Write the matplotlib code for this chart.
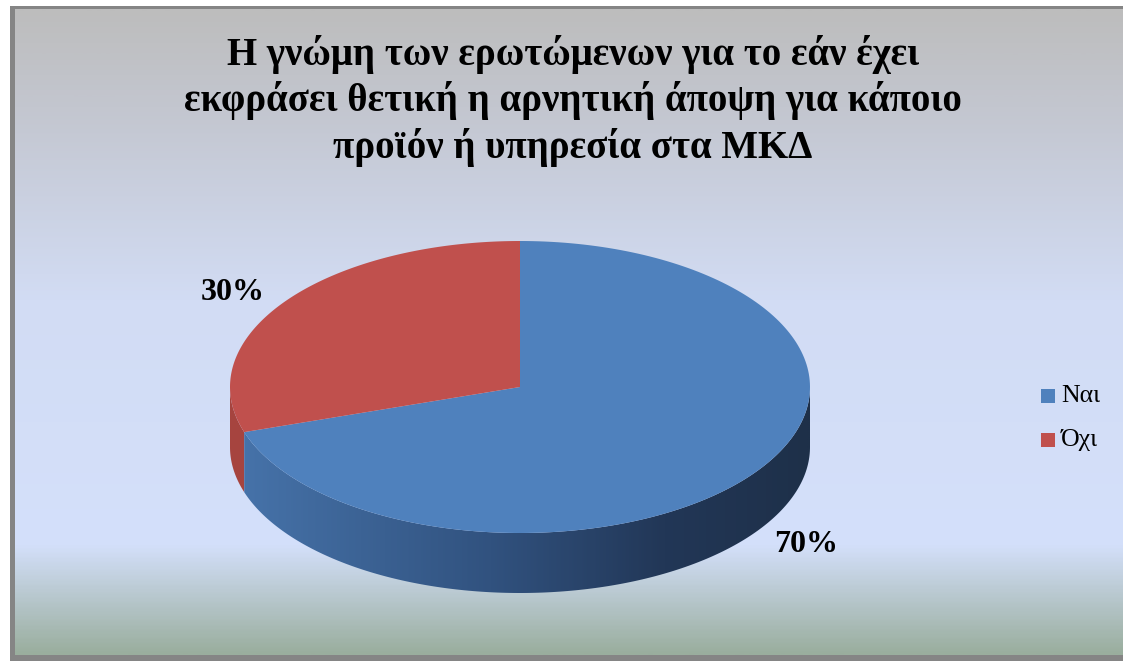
import matplotlib

matplotlib.use("Agg")
import matplotlib.pyplot as plt
import numpy as np
from matplotlib.colors import LinearSegmentedColormap
from matplotlib.patches import Polygon, Rectangle

# survey answers (share of respondents)
categories = ["Ναι", "Όχι"]
shares = [70, 30]
title = ("Η γνώμη των ερωτώμενων για το εάν έχει\n"
         "εκφράσει θετική η αρνητική άποψη για κάποιο\n"
         "προϊόν ή υπηρεσία στα ΜΚΔ")

W, H = 1123, 661
top_colors = ["#4f81bd", "#c0504d"]
side_color_red = "#a6443f"
serif = ["Liberation Serif", "DejaVu Serif"]

# pie geometry in pixel space
cx, cy, rx, ry, depth = 520, 387, 290, 146, 60
label_pos = [(806, 545), (233, 292)]


def arc(t1, t2, dy=0.0, n=200):
    t = np.radians(np.linspace(t1, t2, n))
    return np.column_stack([cx + rx * np.cos(t), cy - ry * np.sin(t) + dy])


fig = plt.figure(figsize=(W / 100, H / 100), dpi=100)
ax = fig.add_axes([0, 0, 1, 1])
ax.set_xlim(0, W)
ax.set_ylim(H, 0)
ax.axis("off")

# frame: grey border on left/top/bottom + vertical gradient fill
ax.add_patch(Rectangle((10, 6), W + 60, H - 6, facecolor="#858585", edgecolor="none", zorder=0))
bg_cmap = LinearSegmentedColormap.from_list(
    "bg",
    [(0.0, "#bdbdbd"), (0.15, "#c3c6cf"), (0.45, "#d2dcf4"), (0.83, "#d4e0fb"), (1.0, "#9aae9e")],
)
grad = np.linspace(0, 1, 400).reshape(-1, 1)
ax.imshow(grad, cmap=bg_cmap, extent=(15, W + 60, 655, 9), aspect="auto", zorder=0.5, interpolation="bilinear")

# slice angles: first slice starts at 12 o'clock and runs clockwise
total = float(sum(shares))
angles = []
start = 90.0
for v in shares:
    sweep = 360.0 * v / total
    angles.append((start - sweep, start))
    start -= sweep

# side walls (front half of the cylinder only)
side_cmap = LinearSegmentedColormap.from_list(
    "side", [(0.0, "#4774ab"), (0.45, "#31527f"), (0.75, "#223757"), (1.0, "#1e3049")]
)
for i, (a, b) in enumerate(angles):
    a2, b2 = a % 360, (a % 360) + (b - a)
    lo, hi = max(a2, 180), min(b2, 360)
    if hi <= lo:
        lo, hi = max(a2 - 360, 180), min(b2 - 360, 360)
    if hi <= lo:
        continue
    upper = arc(lo, hi)
    lower = arc(hi, lo, dy=depth)
    poly = Polygon(np.vstack([upper, lower]), closed=True, facecolor=side_color_red if i == 1 else "none",
                   edgecolor="none", zorder=1)
    ax.add_patch(poly)
    if i == 0:
        xs = np.linspace(0, 1, 300).reshape(1, -1)
        im = ax.imshow(xs, cmap=side_cmap, extent=(cx - rx, cx + rx, cy + ry + depth + 5, cy - 5),
                       aspect="auto", zorder=1.5, interpolation="bilinear")
        im.set_clip_path(poly)

# top faces
for i, (a, b) in enumerate(angles):
    pts = np.vstack([[cx, cy], arc(a, b), [cx, cy]])
    ax.add_patch(Polygon(pts, closed=True, facecolor=top_colors[i], edgecolor="none", zorder=2))

# percentage labels
for v, (lx, ly) in zip(shares, label_pos):
    ax.text(lx, ly, f"{v}%", ha="center", va="center", fontsize=23, fontweight="bold",
            family=serif, color="black", zorder=3)

# title
ax.text(573, 101, title, ha="center", va="center", fontsize=28, fontweight="bold",
        family=serif, linespacing=1.26, color="black", zorder=3)

# legend
for i, name in enumerate(categories):
    y = 396 + 44 * i
    ax.add_patch(Rectangle((1041, y - 7), 14, 14, facecolor=top_colors[i], edgecolor="none", zorder=3))
    ax.text(1061, y, name, ha="left", va="center", fontsize=18.5, family=serif, color="black", zorder=3)

ax.set_xlim(0, W)
ax.set_ylim(H, 0)
fig.savefig("out.png", dpi=100, facecolor="white")
